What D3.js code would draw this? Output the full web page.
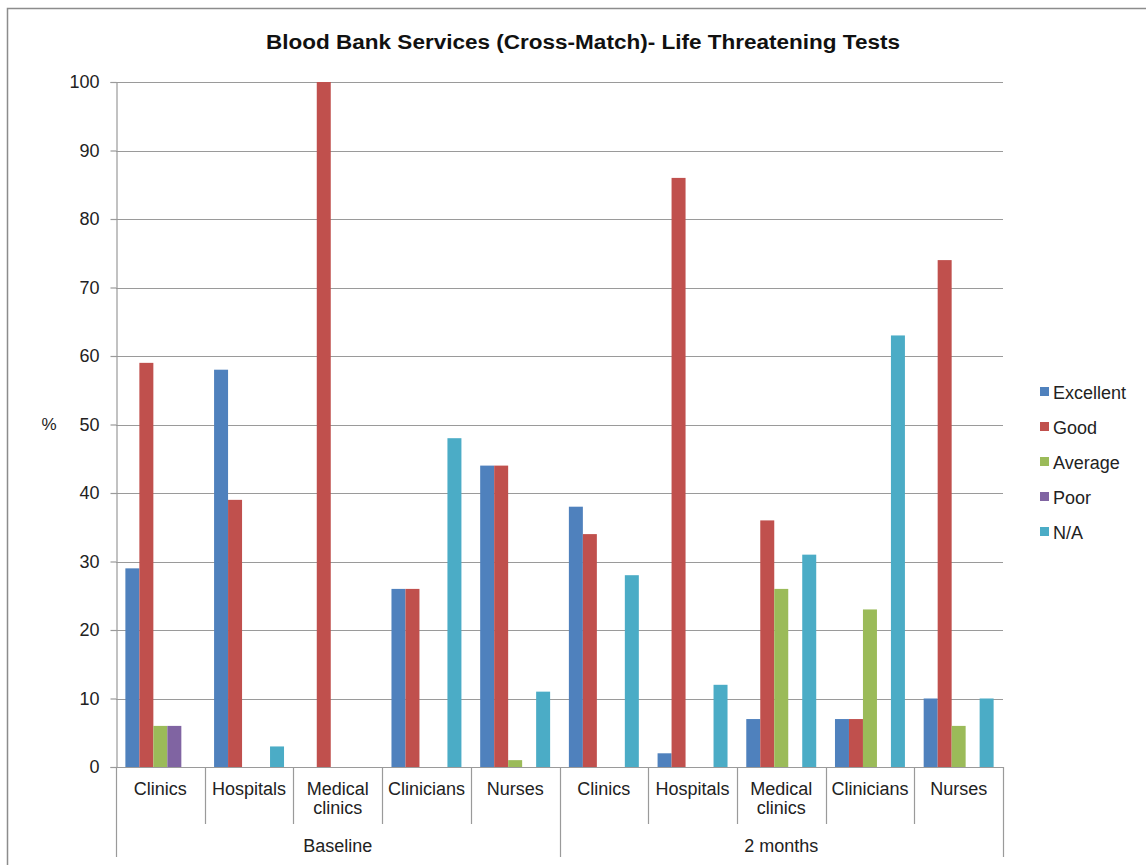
<!DOCTYPE html>
<html>
<head>
<meta charset="utf-8">
<script src="https://cdn.jsdelivr.net/npm/d3@7"></script>
<style>
  html, body { margin: 0; padding: 0; background: #fff; }
  svg { display: block; font-family: "Liberation Sans", Arial, sans-serif; }
</style>
</head>
<body>
<svg id="chart" width="1146" height="865"></svg>
<script>
// Survey periods and the respondent groups within each
const periods = ["Baseline", "2 months"];
const respondents = ["Clinics", "Hospitals", "Medical clinics", "Clinicians", "Nurses"];

// Rating categories (legend order) and their colours
const ratings = ["Excellent", "Good", "Average", "Poor", "N/A"];
const ratingColors = ["#4F81BD", "#C0504D", "#9BBB59", "#8064A2", "#4BACC6"];

// Percent per rating, 5 baseline groups followed by 5 groups at 2 months
const excellent = [29, 58, 0, 26, 44, 38, 2, 7, 7, 10];
const good      = [59, 39, 100, 26, 44, 34, 86, 36, 7, 74];
const average   = [6, 0, 0, 0, 1, 0, 0, 26, 23, 6];
const poor      = [6, 0, 0, 0, 0, 0, 0, 0, 0, 0];
const notApplicable = [0, 3, 0, 48, 11, 28, 12, 31, 63, 10];

const yTicks = [0, 10, 20, 30, 40, 50, 60, 70, 80, 90, 100];
const chartTitle = "Blood Bank Services (Cross-Match)- Life Threatening Tests";
const yTitle = "%";

const seriesValues = [excellent, good, average, poor, notApplicable];

// Flat list of category slots: period x respondent
const slots = [];
periods.forEach((p, pi) => respondents.forEach((r, ri) => slots.push({ key: pi + "|" + ri, period: p, label: r })));

const svg = d3.select("#chart");
const plot = { left: 116, right: 1003, top: 82, bottom: 767 };
const gridColor = "#9a9a9a";
const textColor = "#222";
const labelSize = 18;

// Outer chart frame
svg.append("rect")
  .attr("x", 7.5).attr("y", 8.5)
  .attr("width", 1160).attr("height", 880)
  .attr("fill", "none").attr("stroke", "#8c8c8c").attr("stroke-width", 1.5);

// Title
svg.append("text")
  .attr("x", 583).attr("y", 49)
  .attr("text-anchor", "middle")
  .attr("font-size", 20).attr("font-weight", "bold")
  .attr("textLength", 634).attr("lengthAdjust", "spacingAndGlyphs")
  .attr("fill", "#111")
  .text(chartTitle);

const x = d3.scaleBand()
  .domain(slots.map(s => s.key))
  .range([plot.left, plot.right])
  .paddingInner(0).paddingOuter(0);

const xSeries = d3.scaleBand()
  .domain(ratings)
  .range([0, x.bandwidth()])
  .paddingInner(0).paddingOuter(0.67);

const y = d3.scaleLinear().domain([0, 100]).range([plot.bottom, plot.top]);

const color = d3.scaleOrdinal().domain(ratings).range(ratingColors);

// Horizontal gridlines
svg.append("g")
  .selectAll("line")
  .data(yTicks.filter(t => t > 0))
  .join("line")
  .attr("x1", plot.left).attr("x2", plot.right)
  .attr("y1", d => Math.round(y(d)) + 0.5).attr("y2", d => Math.round(y(d)) + 0.5)
  .attr("stroke", gridColor).attr("stroke-width", 1.2);

// Y axis
const yAxis = svg.append("g")
  .attr("transform", `translate(${plot.left + 0.5},0)`)
  .call(d3.axisLeft(y).tickValues(yTicks).tickSize(6).tickPadding(11).tickFormat(d3.format("d")));
yAxis.select(".domain").attr("stroke", gridColor).attr("stroke-width", 1.2);
yAxis.selectAll(".tick line").attr("stroke", gridColor).attr("stroke-width", 1.2);
yAxis.selectAll(".tick text")
  .attr("font-size", labelSize).attr("fill", textColor)
  .attr("font-family", "Liberation Sans, Arial, sans-serif");

// Y axis title
svg.append("text")
  .attr("x", 49).attr("y", 430)
  .attr("text-anchor", "middle")
  .attr("font-size", 17).attr("fill", textColor)
  .text(yTitle);

// Bars
const barData = [];
slots.forEach((s, i) => ratings.forEach((r, ri) => barData.push({ slot: s.key, rating: r, value: seriesValues[ri][i] })));

svg.append("g")
  .selectAll("rect")
  .data(barData.filter(d => d.value > 0))
  .join("rect")
  .attr("x", d => x(d.slot) + xSeries(d.rating))
  .attr("width", xSeries.bandwidth())
  .attr("y", d => y(d.value))
  .attr("height", d => y(0) - y(d.value))
  .attr("fill", d => color(d.rating));

// X axis baseline
svg.append("line")
  .attr("x1", plot.left).attr("x2", plot.right)
  .attr("y1", plot.bottom + 0.5).attr("y2", plot.bottom + 0.5)
  .attr("stroke", gridColor).attr("stroke-width", 1.2);

// Category separators (short) and period separators (long)
const boundaries = d3.range(slots.length + 1);
svg.append("g")
  .selectAll("line")
  .data(boundaries)
  .join("line")
  .attr("x1", i => Math.round(plot.left + i * x.step()) + 0.5)
  .attr("x2", i => Math.round(plot.left + i * x.step()) + 0.5)
  .attr("y1", plot.bottom)
  .attr("y2", i => (i % respondents.length === 0) ? 857 : 824)
  .attr("stroke", gridColor).attr("stroke-width", 1.2);

// Respondent labels (wrapped onto two lines where needed)
const catLabels = svg.append("g")
  .selectAll("text")
  .data(slots)
  .join("text")
  .attr("x", d => x(d.key) + x.bandwidth() / 2)
  .attr("y", 795)
  .attr("text-anchor", "middle")
  .attr("font-size", labelSize).attr("fill", textColor);
catLabels.each(function(d) {
  const words = d.label.split(" ");
  const t = d3.select(this);
  if (words.length === 1) { t.text(d.label); return; }
  words.forEach((w, wi) => t.append("tspan")
    .attr("x", x(d.key) + x.bandwidth() / 2)
    .attr("dy", wi === 0 ? 0 : 19)
    .text(w));
});

// Period labels
svg.append("g")
  .selectAll("text")
  .data(periods)
  .join("text")
  .attr("x", (p, pi) => plot.left + (pi + 0.5) * respondents.length * x.step())
  .attr("y", 852)
  .attr("text-anchor", "middle")
  .attr("font-size", labelSize).attr("fill", textColor)
  .text(p => p);

// Legend
const legend = svg.append("g")
  .selectAll("g")
  .data(ratings)
  .join("g")
  .attr("transform", (d, i) => `translate(1040, ${392 + i * 35})`);
legend.append("rect")
  .attr("x", 0).attr("y", -5)
  .attr("width", 9).attr("height", 9)
  .attr("fill", d => color(d));
legend.append("text")
  .attr("x", 13).attr("y", 6.5)
  .attr("font-size", labelSize).attr("fill", textColor)
  .text(d => d);
</script>
</body>
</html>
